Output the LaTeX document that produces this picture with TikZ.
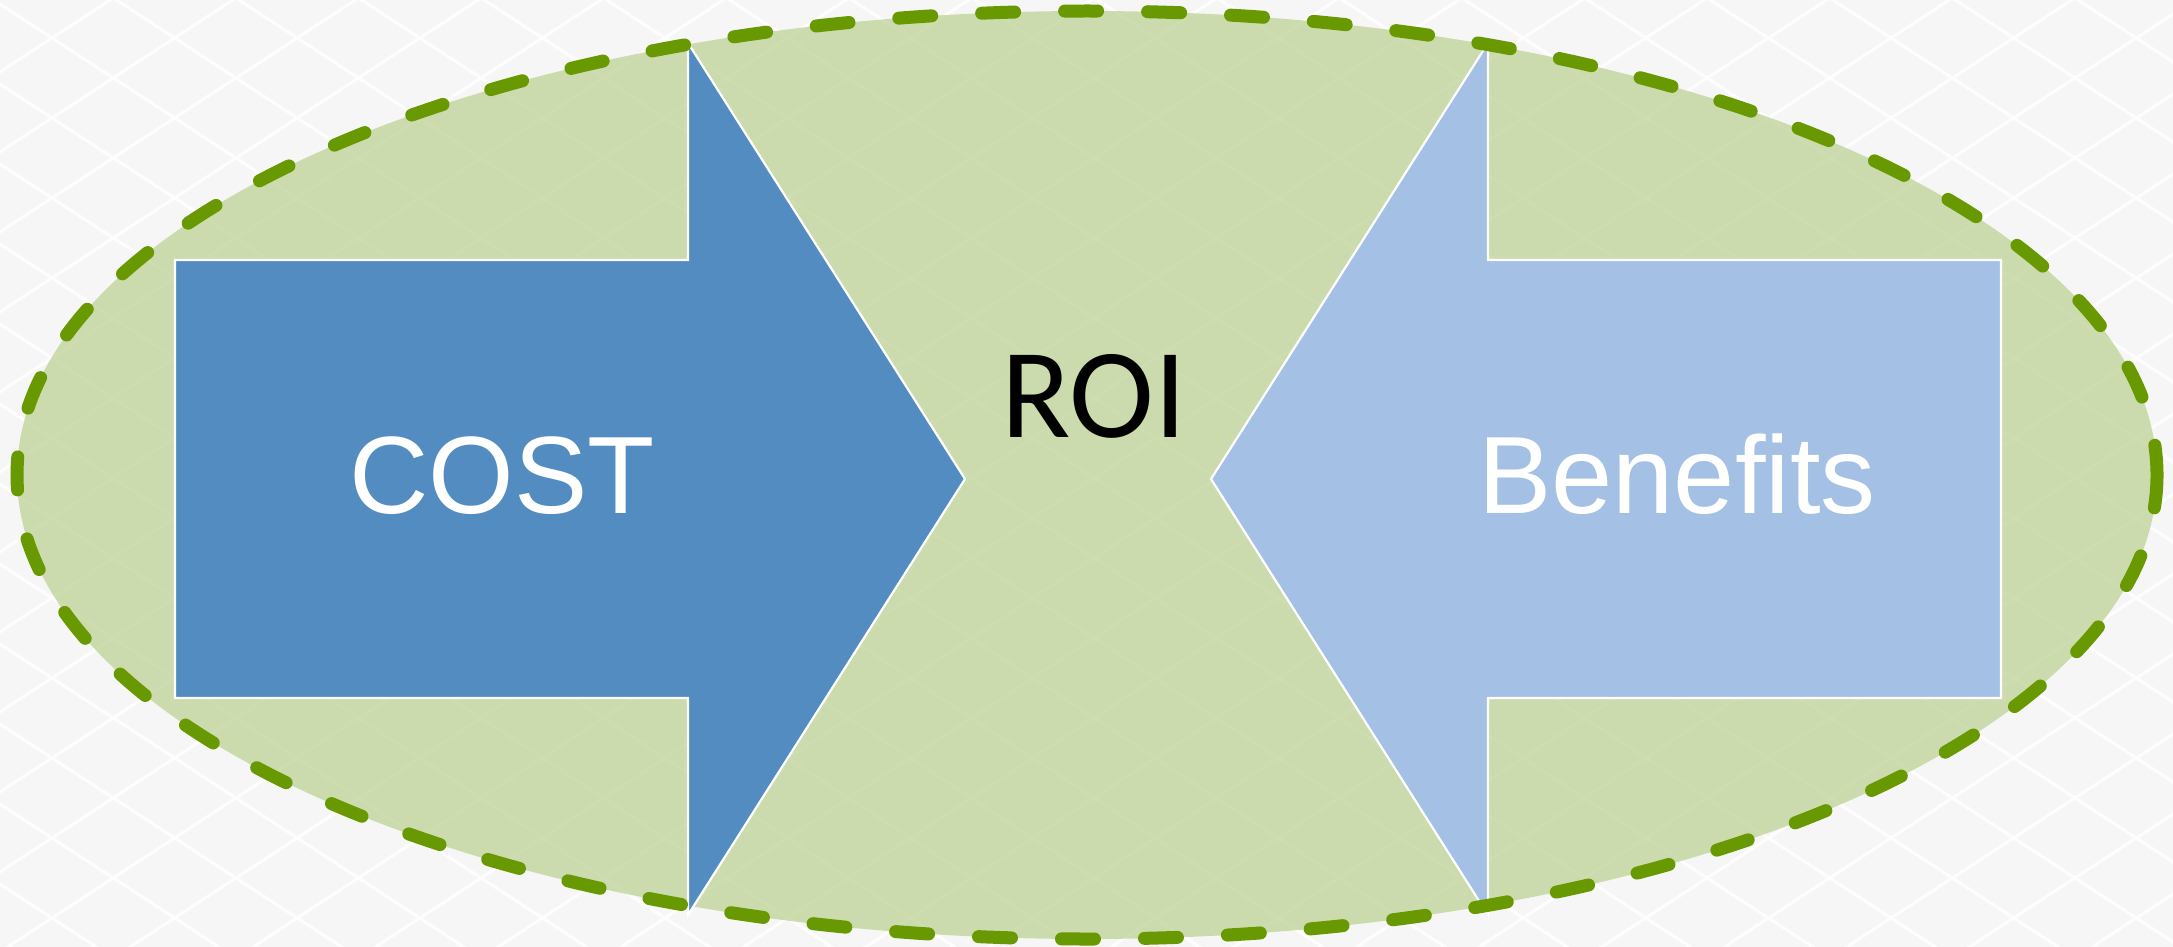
\documentclass[tikz,border=0pt]{standalone}
\usepackage{fontspec}
\setmainfont{Liberation Sans}
\newfontfamily\roifont{Carlito}
\definecolor{paper}{RGB}{246,246,246}
\definecolor{latticewhite}{RGB}{253,253,253}
\definecolor{rimgreen}{RGB}{104,153,0}
\definecolor{roigreen}{RGB}{188,209,145}
\definecolor{costblue}{RGB}{83,140,192}
\definecolor{benefitblue}{RGB}{164,192,228}
\begin{document}
\begin{tikzpicture}[x=0.5pt,y=-0.5pt,
  latticeline/.style={draw=latticewhite, line width=1.6pt},
  roizone/.style={fill=roigreen, fill opacity=0.72},
  rimdash/.style={draw=rimgreen, line width=6.5pt, line cap=round,
    dash pattern=on 16.5pt off 25pt},
  blockarrow/.style={draw=white, line width=1.1pt, line join=miter},
  labeltext/.style={text=white, inner sep=0pt, anchor=base,
    font=\fontsize{55}{60}\selectfont},
  roitext/.style={text=black, inner sep=0pt, anchor=base,
    font=\roifont\fontsize{64}{70}\selectfont}]
  \useasboundingbox (0,0) rectangle (2173,947);
  % paper with a diamond lattice
  \fill[paper] (0,0) rectangle (2173,947);
  \begin{scope}
    \clip (0,0) rectangle (2173,947);
    \foreach \k in {-21,...,12}
      \draw[latticeline] (-100,{4.07-65.25+80*\k}) -- ++(2400,1566);
    \foreach \k in {-2,...,32}
      \draw[latticeline] (-100,{71.9+65.25+80*\k}) -- ++(2400,-1566);
  \end{scope}
  % translucent ROI zone
  \fill[roizone] (1087,475) ellipse [x radius=1070, y radius=464];
  % cost arrow pointing right
  \filldraw[blockarrow, fill=costblue]
    (175,260) -- (688,260) -- (688,43) -- (965,479) -- (688,915)
    -- (688,698) -- (175,698) -- cycle;
  % benefits arrow pointing left
  \filldraw[blockarrow, fill=benefitblue]
    (2001,260) -- (1488,260) -- (1488,43) -- (1211,479) -- (1488,915)
    -- (1488,698) -- (2001,698) -- cycle;
  % dashed rim of the zone
  \draw[rimdash] (1087,475) ellipse [x radius=1070, y radius=464];
  % labels
  \node[labeltext] (cost) at (502,513) {COST};
  \node[labeltext] (benefits) at (1677,513) {Benefits};
  \node[roitext] (roi) at (1094,437) {ROI};
\end{tikzpicture}
\end{document}
